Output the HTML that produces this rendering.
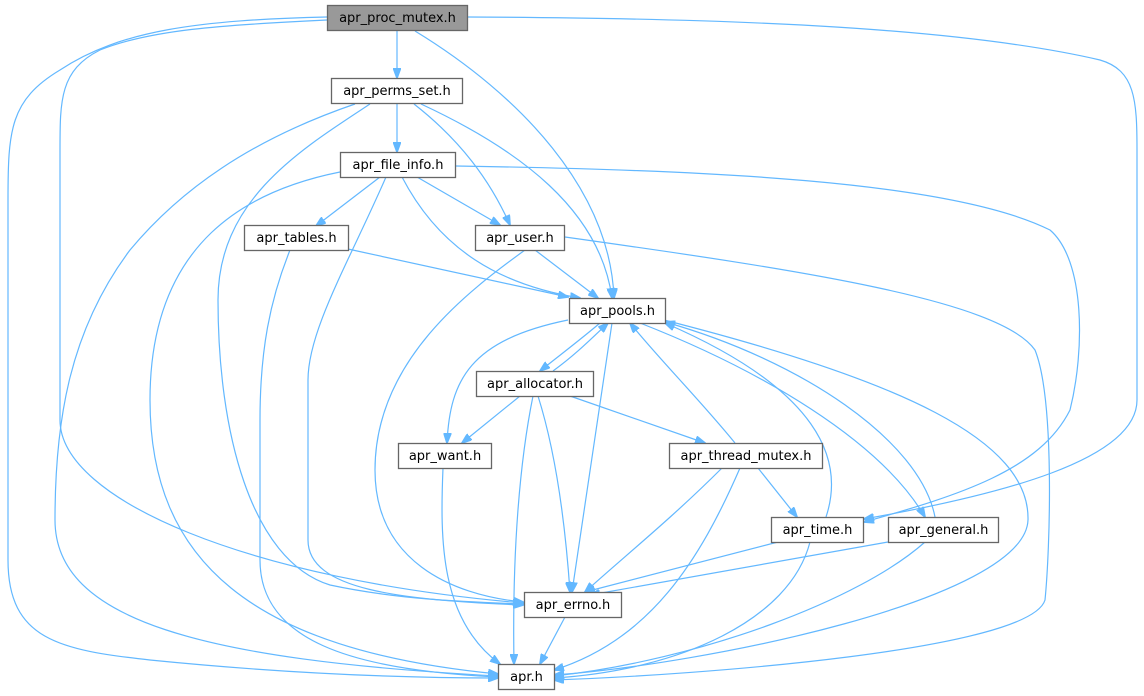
<!DOCTYPE html>
<html><head><meta charset="utf-8"><style>
body{margin:0;background:#fff}
svg{display:block}
text{font-family:"DejaVu Sans","Liberation Sans",sans-serif;font-size:13px;fill:#000}
.n{fill:#fff;stroke:#666;stroke-width:1.3}
.e{fill:none;stroke:#63b8ff;stroke-width:1.2}
</style></head><body>
<svg width="1144" height="696" viewBox="0 0 1144 696" xmlns="http://www.w3.org/2000/svg">
<defs><marker id="a" markerWidth="11" markerHeight="8" refX="10" refY="4" orient="auto" markerUnits="userSpaceOnUse"><path d="M0,0 L11,4 L0,8 Z" fill="#63b8ff" stroke="#63b8ff"/></marker></defs>
<g class="e" marker-end="url(#a)">
<!-- proc_mutex -->
<path d="M397,31 L397,78"/>
<path d="M415,31 C520,95 610,190 614,298"/>
<path d="M327,17 C200,20 120,30 60,70 C10,100 8,130 8,200 L8,560 C8,640 60,650 150,660 C300,675 420,678 498,678"/>
<path d="M327,20 C220,25 150,30 100,50 C60,70 60,100 60,150 L60,420 C60,500 250,580 523,603"/>
<path d="M467,17 C700,18 950,25 1100,60 C1135,70 1137,100 1137,150 L1137,400 C1137,460 1000,495 864,519"/>
<!-- perms_set -->
<path d="M397,104 L397,152"/>
<path d="M414,104 C460,140 490,180 510,225"/>
<path d="M421,104 C520,150 600,210 612,298"/>
<path d="M355,104 C250,140 180,190 130,250 C70,330 55,420 55,520 C55,620 200,660 498,676"/>
<path d="M370,104 C300,150 218,200 218,300 C218,430 250,560 330,585 C400,600 470,602 523,604"/>
<!-- file_info -->
<path d="M380,177 L316,226"/>
<path d="M417,177 L500,225"/>
<path d="M402,177 C440,250 500,285 580,298"/>
<path d="M386,177 C350,260 308,330 308,380 L308,540 C308,590 400,600 523,605"/>
<path d="M340,172 C250,190 150,240 150,400 C150,560 250,650 498,674"/>
<path d="M456,166 C700,170 950,180 1050,230 C1085,260 1085,350 1070,410 C1040,470 960,495 864,522"/>
<!-- tables -->
<path d="M348,249 L568,297"/>
<path d="M290,250 C270,300 260,350 260,420 L260,560 C260,640 350,670 498,677"/>
<!-- user -->
<path d="M535,250 L598,298"/>
<path d="M525,250 C470,290 375,360 375,470 C375,560 450,595 523,602"/>
<path d="M565,237 C800,270 1000,300 1035,350 C1055,400 1050,550 1045,600 C1030,650 700,675 554,680"/>
<!-- pools -->
<path d="M600,323 C580,340 560,355 540,371"/>
<path d="M568,320 C470,340 450,380 447,443"/>
<path d="M612,323 L572,592"/>
<path d="M640,323 C760,370 880,440 925,517"/>
<path d="M664,320 C900,380 1030,440 1028,520 C1025,600 700,665 554,675"/>
<!-- allocator -->
<path d="M553,371 C575,355 590,340 608,323"/>
<path d="M520,396 L462,443"/>
<path d="M533,396 C520,460 512,550 514,664"/>
<path d="M538,396 C555,450 565,520 570,592"/>
<path d="M570,396 L705,443"/>
<!-- thread_mutex -->
<path d="M735,443 C700,400 660,360 630,323"/>
<path d="M758,468 L797,517"/>
<path d="M722,468 C670,520 620,560 585,592"/>
<path d="M740,468 C700,560 650,640 554,670"/>
<!-- time / general -->
<path d="M826,517 C845,460 820,390 665,323"/>
<path d="M935,517 C920,440 800,360 665,322"/>
<path d="M778,542 L585,592"/>
<path d="M810,542 C790,620 680,670 554,678"/>
<path d="M888,542 L590,595"/>
<path d="M925,542 C860,600 700,660 554,676"/>
<!-- errno / want -->
<path d="M565,617 L540,664"/>
<path d="M443,468 C440,540 440,620 500,664"/>
</g>
<g>
<rect x="327.5" y="5.5" width="140" height="25" fill="#999" stroke="#666" stroke-width="1.3"/><text x="397.5" y="22" text-anchor="middle">apr_proc_mutex.h</text>
<rect class="n" x="331.5" y="78.5" width="131" height="25"/><text x="397" y="95" text-anchor="middle">apr_perms_set.h</text>
<rect class="n" x="340.5" y="152.5" width="115" height="25"/><text x="398" y="169" text-anchor="middle">apr_file_info.h</text>
<rect class="n" x="244.5" y="225.5" width="104" height="25"/><text x="296.5" y="242" text-anchor="middle">apr_tables.h</text>
<rect class="n" x="475.5" y="225.5" width="89" height="25"/><text x="520" y="242" text-anchor="middle">apr_user.h</text>
<rect class="n" x="569.5" y="298.5" width="96" height="25"/><text x="617.5" y="315" text-anchor="middle">apr_pools.h</text>
<rect class="n" x="476.5" y="371.5" width="117" height="25"/><text x="535" y="388" text-anchor="middle">apr_allocator.h</text>
<rect class="n" x="398.5" y="443.5" width="93" height="25"/><text x="445" y="460" text-anchor="middle">apr_want.h</text>
<rect class="n" x="669.5" y="443.5" width="153" height="25"/><text x="746" y="460" text-anchor="middle">apr_thread_mutex.h</text>
<rect class="n" x="771.5" y="517.5" width="92" height="25"/><text x="817.5" y="534" text-anchor="middle">apr_time.h</text>
<rect class="n" x="888.5" y="517.5" width="110" height="25"/><text x="943.5" y="534" text-anchor="middle">apr_general.h</text>
<rect class="n" x="524.5" y="592.5" width="97" height="25"/><text x="573" y="609" text-anchor="middle">apr_errno.h</text>
<rect class="n" x="498.5" y="664.5" width="56" height="25"/><text x="526.5" y="681" text-anchor="middle">apr.h</text>
</g>
</svg>
</body></html>
